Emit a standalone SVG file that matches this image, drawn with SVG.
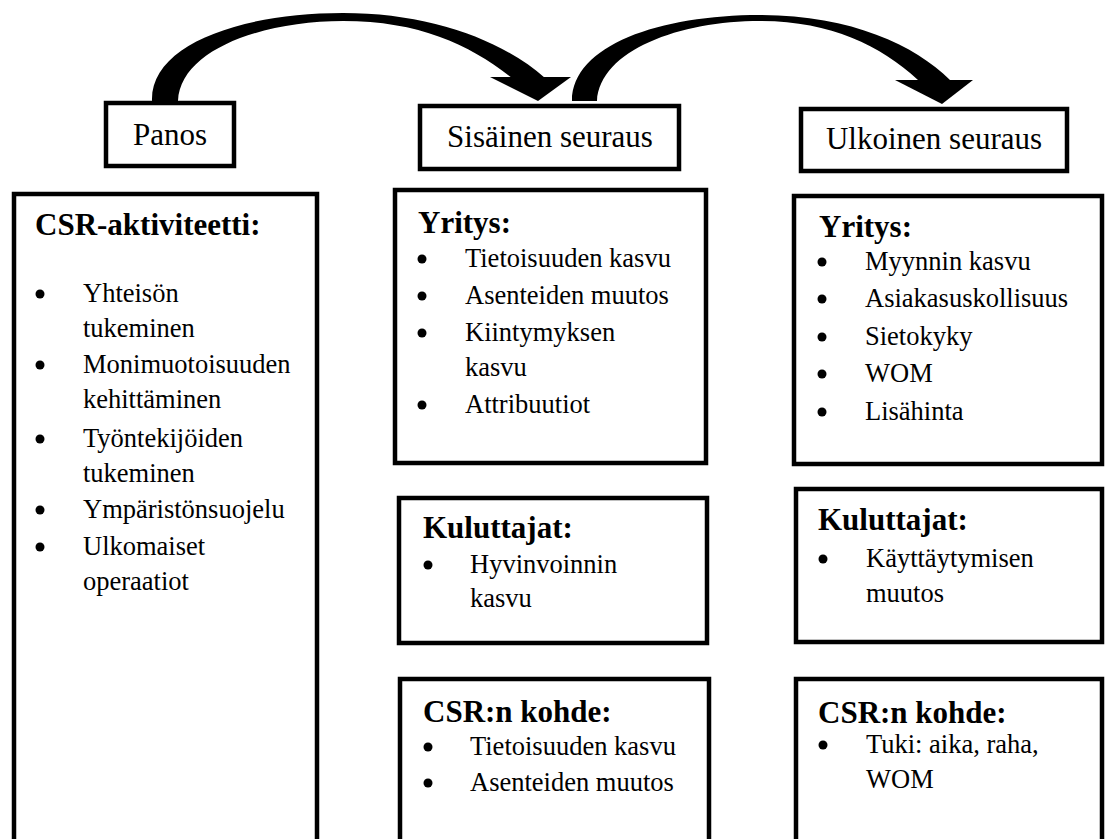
<svg xmlns="http://www.w3.org/2000/svg" width="1106" height="839" viewBox="0 0 1106 839">
<style>
.box{fill:#fff;stroke:#000;stroke-width:4.5}
.hd{font-family:"Liberation Serif","Times New Roman",serif;font-size:31px;fill:#000;text-anchor:middle}
.tt{font-family:"Liberation Serif","Times New Roman",serif;font-size:31px;font-weight:bold;fill:#000}
.it{font-family:"Liberation Serif","Times New Roman",serif;font-size:26.5px;fill:#000}
.arrow{fill:#000;stroke:none}
</style>
<defs>
<circle id="b" r="4.5" fill="#000"/>
</defs>
<rect width="1106" height="839" fill="#fff"/>

<g id="connectors">
<path class="arrow" d="M152,101 C150,45 240,13 343,13 C430,13 502,40 545,78 L512,78 C470,45 420,21 343,21 C262,21 180,50 178,101 Z"/>
<polygon class="arrow" points="490,77 571,77 538,101"/>
<path class="arrow" d="M572,101 C572,45 660,15 760,15 C850,15 915,45 950,80 L918,80 C880,45 830,21 760,21 C680,21 600,50 597,101 Z"/>
<polygon class="arrow" points="895,80 973,80 942,104"/>
</g>

<g id="panos">
<rect class="box" x="106" y="103" width="128" height="63"/>
<text class="hd" x="170" y="145">Panos</text>
</g>

<g id="sisainen-seuraus">
<rect class="box" x="420" y="106" width="259" height="63"/>
<text class="hd" x="550" y="147">Sisäinen seuraus</text>
</g>

<g id="ulkoinen-seuraus">
<rect class="box" x="801" y="109" width="266" height="62"/>
<text class="hd" x="934" y="149">Ulkoinen seuraus</text>
</g>

<g id="csr-aktiviteetti">
<rect class="box" x="14" y="194" width="303" height="680"/>
<text class="tt" x="35" y="235">CSR-aktiviteetti:</text>
<use href="#b" x="40" y="294"/>
<text class="it" x="83" y="302">Yhteisön</text>
<text class="it" x="83" y="337">tukeminen</text>
<use href="#b" x="40" y="365"/>
<text class="it" x="83" y="373">Monimuotoisuuden</text>
<text class="it" x="83" y="408">kehittäminen</text>
<use href="#b" x="40" y="439"/>
<text class="it" x="83" y="447">Työntekijöiden</text>
<text class="it" x="83" y="482">tukeminen</text>
<use href="#b" x="40" y="510"/>
<text class="it" x="83" y="518">Ympäristönsuojelu</text>
<use href="#b" x="40" y="547"/>
<text class="it" x="83" y="555">Ulkomaiset</text>
<text class="it" x="83" y="590">operaatiot</text>
</g>

<g id="sisainen-yritys">
<rect class="box" x="395" y="190" width="311" height="273"/>
<text class="tt" x="418" y="233">Yritys:</text>
<use href="#b" x="422" y="259"/>
<text class="it" x="465" y="267">Tietoisuuden kasvu</text>
<use href="#b" x="422" y="296"/>
<text class="it" x="465" y="304">Asenteiden muutos</text>
<use href="#b" x="422" y="333"/>
<text class="it" x="465" y="341">Kiintymyksen</text>
<text class="it" x="465" y="376">kasvu</text>
<use href="#b" x="422" y="405"/>
<text class="it" x="465" y="413">Attribuutiot</text>
</g>

<g id="sisainen-kuluttajat">
<rect class="box" x="399" y="498" width="308" height="145"/>
<text class="tt" x="423" y="538">Kuluttajat:</text>
<use href="#b" x="428" y="565"/>
<text class="it" x="470" y="573">Hyvinvoinnin</text>
<text class="it" x="470" y="607">kasvu</text>
</g>

<g id="sisainen-csr-kohde">
<rect class="box" x="400" y="679" width="309" height="200"/>
<text class="tt" x="423" y="722">CSR:n kohde:</text>
<use href="#b" x="428" y="747"/>
<text class="it" x="470" y="755">Tietoisuuden kasvu</text>
<use href="#b" x="428" y="783"/>
<text class="it" x="470" y="791">Asenteiden muutos</text>
</g>

<g id="ulkoinen-yritys">
<rect class="box" x="794" y="196" width="308" height="268"/>
<text class="tt" x="819" y="237">Yritys:</text>
<use href="#b" x="822" y="262"/>
<text class="it" x="865" y="270">Myynnin kasvu</text>
<use href="#b" x="822" y="299"/>
<text class="it" x="865" y="307">Asiakasuskollisuus</text>
<use href="#b" x="822" y="337"/>
<text class="it" x="865" y="345">Sietokyky</text>
<use href="#b" x="822" y="374"/>
<text class="it" x="865" y="382">WOM</text>
<use href="#b" x="822" y="412"/>
<text class="it" x="865" y="420">Lisähinta</text>
</g>

<g id="ulkoinen-kuluttajat">
<rect class="box" x="796" y="489" width="306" height="153"/>
<text class="tt" x="818" y="530">Kuluttajat:</text>
<use href="#b" x="823" y="559"/>
<text class="it" x="866" y="567">Käyttäytymisen</text>
<text class="it" x="866" y="602">muutos</text>
</g>

<g id="ulkoinen-csr-kohde">
<rect class="box" x="796" y="679" width="306" height="200"/>
<text class="tt" x="818" y="723">CSR:n kohde:</text>
<use href="#b" x="823" y="745"/>
<text class="it" x="866" y="753">Tuki: aika, raha,</text>
<text class="it" x="866" y="788">WOM</text>
</g>
</svg>
